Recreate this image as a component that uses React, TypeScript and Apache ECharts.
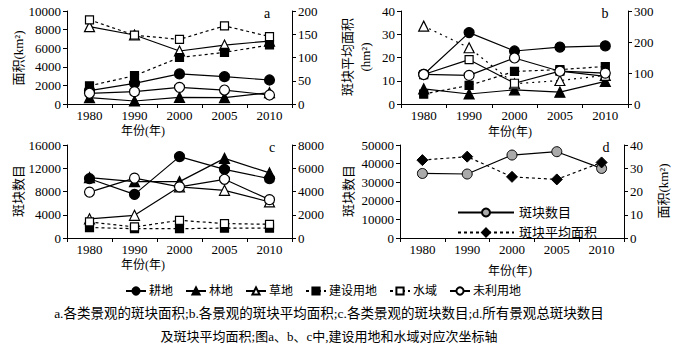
import React, { useEffect, useRef } from "react";
import * as echarts from "echarts";

const years = ["1980", "1990", "2000", "2005", "2010"];
const landNames = ["耕地", "林地", "草地", "建设用地", "水域", "未利用地"];

// panel a: area (km2); 建设用地, 水域 on secondary axis
const aGeng = [1430, 2220, 3230, 2940, 2580];
const aLin = [680, 320, 720, 680, 1220];
const aCao = [8320, 7420, 5700, 6340, 6770];
const aJian = [39, 61, 100, 111, 127];
const aShui = [181, 148, 139, 168, 145];
const aWei = [1150, 1330, 1790, 1500, 970];

// panel b: mean patch area (hm2)
const bGeng = [12.7, 30.7, 22.8, 24.5, 25.0];
const bLin = [6.5, 4.3, 6.1, 5.1, 9.7];
const bCao = [33.5, 24.2, 8.7, 10.1, 12.3];
const bJian = [32, 60, 105, 111, 121];
const bShui = [95, 143, 67, 106, 89];
const bWei = [12.7, 12.3, 19.8, 14.1, 13.3];

// panel c: number of patches
const cGeng = [10200, 7500, 14000, 11800, 10200];
const cLin = [10400, 9700, 9700, 13700, 11200];
const cCao = [3300, 3900, 8800, 8200, 6200];
const cJian = [900, 800, 800, 850, 850];
const cShui = [1380, 950, 1520, 1240, 1180];
const cWei = [7900, 10300, 8800, 10100, 6600];

// panel d: totals
const dCount = [34700, 34400, 44600, 46400, 37400];
const dArea = [33.5, 35.0, 26.3, 25.2, 32.5];

const SERIF = "'Liberation Serif', 'Noto Sans CJK SC', serif";
const K = "#000";

type Sty = { symbol: string; size: number; fill: string; dash: any };
const styles: Sty[] = [
  { symbol: "circle", size: 10, fill: K, dash: "solid" },
  { symbol: "triangle", size: 10, fill: K, dash: "solid" },
  { symbol: "triangle", size: 10, fill: "#fff", dash: "solid" },
  { symbol: "rect", size: 8, fill: K, dash: [3, 3] },
  { symbol: "rect", size: 8, fill: "#fff", dash: [3, 3] },
  { symbol: "circle", size: 10, fill: "#fff", dash: "solid" },
];

function mk(name: string, data: number[], st: Sty, xi: number, yi: number, dashOverride?: any) {
  return {
    type: "line",
    name,
    data,
    xAxisIndex: xi,
    yAxisIndex: yi,
    symbol: st.symbol,
    symbolSize: st.size,
    showAllSymbol: true,
    lineStyle: { color: K, width: 1.2, type: dashOverride ?? st.dash },
    itemStyle: { color: st.fill, borderColor: K, borderWidth: 1.2 },
    emphasis: { disabled: true },
  };
}

function panelSeries(sets: number[][], gi: number, overrides: any[] = []) {
  return sets.map((d, i) =>
    mk(landNames[i], d, styles[i], gi, gi * 2 + (i === 3 || i === 4 ? 1 : 0), overrides[i])
  );
}

const axisFont = { fontFamily: SERIF, fontSize: 13, color: K };

function xAx(gi: number) {
  return {
    type: "category",
    gridIndex: gi,
    data: years,
    boundaryGap: true,
    axisLine: { lineStyle: { color: K, width: 1 } },
    axisTick: { show: true, length: 4, lineStyle: { color: K } },
    axisLabel: { ...axisFont, margin: 5 },
  };
}

function yAx(gi: number, max: number, interval: number, right: boolean) {
  return {
    type: "value",
    gridIndex: gi,
    position: right ? "right" : "left",
    min: 0,
    max,
    interval,
    axisLine: { show: true, lineStyle: { color: K, width: 1 } },
    axisTick: { show: true, length: 4, lineStyle: { color: K } },
    axisLabel: { ...axisFont, margin: 6, formatter: (v: number) => String(v) },
    splitLine: { show: false },
  };
}

function txt(x: number, y: number, text: string, size = 13, rot = 0, font = SERIF) {
  return {
    type: "text",
    x,
    y,
    rotation: rot,
    style: {
      text,
      fill: K,
      font: `${size}px ${font}`,
      textAlign: "center",
      textVerticalAlign: "middle",
    },
  };
}

export default function App() {
  const ref = useRef<HTMLDivElement>(null);
  useEffect(() => {
    if (!ref.current) return;
    const chart = echarts.init(ref.current, undefined, { renderer: "svg" });
    const series: any[] = [
      ...panelSeries([aGeng, aLin, aCao, aJian, aShui, aWei], 0),
      ...panelSeries([bGeng, bLin, bCao, bJian, bShui, bWei], 1, [undefined, undefined, [2, 4], undefined, "solid", undefined]),
      ...panelSeries([cGeng, cLin, cCao, cJian, cShui, cWei], 2),
      {
        type: "line",
        name: "斑块数目",
        data: dCount,
        xAxisIndex: 3,
        yAxisIndex: 6,
        symbol: "circle",
        symbolSize: 10,
        lineStyle: { color: K, width: 1.2 },
        itemStyle: { color: "#aaa", borderColor: K, borderWidth: 1 },
        emphasis: { disabled: true },
      },
      {
        type: "line",
        name: "斑块平均面积",
        data: dArea,
        xAxisIndex: 3,
        yAxisIndex: 7,
        symbol: "diamond",
        symbolSize: 11,
        lineStyle: { color: K, width: 1.2, type: [3, 3] },
        itemStyle: { color: K, borderColor: K, borderWidth: 1 },
        emphasis: { disabled: true },
      },
    ];
    chart.setOption({
      animation: false,
      backgroundColor: "#fff",
      textStyle: { fontFamily: SERIF },
      grid: [
        { left: 67, top: 11, width: 225, height: 93 },
        { left: 401, top: 11, width: 227, height: 93 },
        { left: 67, top: 145, width: 225, height: 93 },
        { left: 400, top: 145, width: 224, height: 93 },
      ],
      xAxis: [xAx(0), xAx(1), xAx(2), xAx(3)],
      yAxis: [
        yAx(0, 10000, 2000, false),
        yAx(0, 200, 50, true),
        yAx(1, 40, 10, false),
        yAx(1, 300, 100, true),
        yAx(2, 16000, 4000, false),
        yAx(2, 8000, 2000, true),
        yAx(3, 50000, 10000, false),
        yAx(3, 40, 10, true),
      ],
      legend: [
        {
          data: landNames,
          left: 120,
          top: 280,
          itemWidth: 20,
          itemHeight: 9,
          itemGap: 12,
          selectedMode: false,
          textStyle: { fontFamily: SERIF, fontSize: 12, color: K, padding: [0, 0, 0, -2] },
        },
        {
          data: ["斑块数目", "斑块平均面积"],
          orient: "vertical",
          left: 452,
          top: 201,
          itemWidth: 56,
          itemHeight: 10,
          itemGap: 7,
          selectedMode: false,
          textStyle: { fontFamily: SERIF, fontSize: 13, color: K },
        },
      ],
      graphic: [
        txt(267, 13, "a", 14),
        txt(605, 13, "b", 14),
        txt(272, 147, "c", 14),
        txt(606, 147, "d", 14),
        txt(18, 58, "面积(km²)", 13, Math.PI / 2),
        txt(347, 57, "斑块平均面积", 13, Math.PI / 2),
        txt(365, 57, "(hm²)", 13, Math.PI / 2),
        txt(18, 191, "斑块数目", 13, Math.PI / 2),
        txt(348, 191, "斑块数目", 13, Math.PI / 2),
        txt(663, 191, "面积(km²)", 13, Math.PI / 2),
        txt(143, 131, "年份(年)", 12),
        txt(510, 132, "年份(年)", 12),
        txt(143, 265, "年份(年)", 12),
        txt(510, 271, "年份(年)", 12),
        txt(329, 313, "a.各类景观的斑块面积;b.各景观的斑块平均面积;c.各类景观的斑块数目;d.所有景观总斑块数目", 13.5),
        txt(329, 336, "及斑块平均面积;图a、b、c中,建设用地和水域对应次坐标轴", 13),
      ],
      series,
    });
    return () => chart.dispose();
  }, []);
  return (
    <div
      ref={ref}
      style={{ position: "fixed", left: 0, top: 0, width: 674, height: 350 }}
    />
  );
}
